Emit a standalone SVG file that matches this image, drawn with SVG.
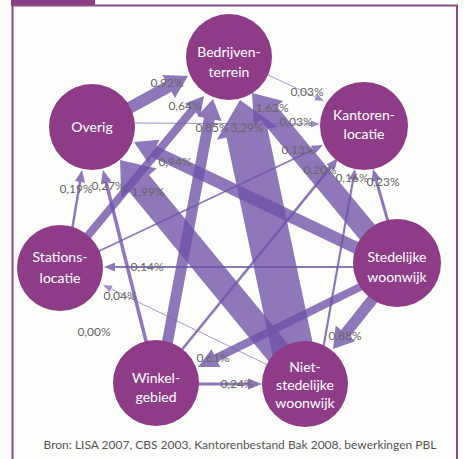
<svg xmlns="http://www.w3.org/2000/svg" width="464" height="459" viewBox="0 0 464 459">
<style>
.arr{fill:#6e52a8;fill-opacity:0.78}
.thin{fill:#7a62b2;fill-opacity:0.7}
.node{fill:#8e3c88}
.nt{font-family:Lato,"Liberation Sans",sans-serif;font-size:14px;fill:#ffffff;text-anchor:middle}
.lbl{font-family:Lato,"Liberation Sans",sans-serif;font-size:12px;fill:#666666;text-anchor:middle}
.src{font-family:Lato,"Liberation Sans",sans-serif;font-size:12px;fill:#555555;text-anchor:middle}
.frame{stroke:#8a4a85;stroke-width:2;fill:none}
</style>
<rect width="464" height="459" fill="#fdfdfb"/>
<rect x="11" y="0" width="84" height="6" fill="#8b3d83"/>
<path class="frame" d="M12.5 459 V5.5 H457 V459"/>

<g id="connectors">
  <!-- O -> B 0,92% -->
  <polygon class="arr" transform="translate(188,76) rotate(-28.55)" points="-77.4,-6 -22,-6 -22,-13 0,0 -22,13 -22,6 -77.4,6"/>
  <!-- S -> B 0,64% -->
  <polygon class="arr" transform="translate(204,96) rotate(-50.24)" points="-193.8,-4 -18,-4 -18,-10 0,0 -18,10 -18,4 -193.8,4"/>
  <!-- W -> B 0,85% -->
  <polygon class="arr" transform="translate(213,99) rotate(-79.39)" points="-255.4,-5.5 -20,-5.5 -20,-12.5 0,0 -20,12.5 -20,5.5 -255.4,5.5"/>
  <!-- N -> B 3,29% -->
  <polygon class="arr" transform="translate(240,100) rotate(-101.92)" points="-276,-21 -34,-21 -34,-31 0,0 -34,31 -34,21 -276,21"/>
  <!-- St -> B 1,62% -->
  <polygon class="arr" transform="translate(252,93) rotate(-129.66)" points="-197.4,-10.5 -26,-10.5 -26,-19 0,0 -26,19 -26,10.5 -197.4,10.5"/>
  <!-- B -> K 0,03% -->
  <polygon class="thin" transform="translate(324,101) rotate(25)" points="-66.2,-0.4 -9,-0.4 -9,-3.5 0,0 -9,3.5 -9,0.4 -66.2,0.4"/>
  <!-- O -> K 0,03% -->
  <polygon class="thin" transform="translate(320,124) rotate(0.3)" points="-190,-0.5 -9,-0.5 -9,-3.5 0,0 -9,3.5 -9,0.5 -190,0.5"/>
  <!-- S -> K 0,13% -->
  <polygon class="arr" transform="translate(323,145) rotate(-25.35)" points="-252.3,-0.9 -11,-0.9 -11,-4.5 0,0 -11,4.5 -11,0.9 -252.3,0.9"/>
  <!-- W -> K 0,20% -->
  <polygon class="arr" transform="translate(338,158) rotate(-50.84)" points="-250.2,-1.3 -12,-1.3 -12,-5 0,0 -12,5 -12,1.3 -250.2,1.3"/>
  <!-- N -> K 0,16% -->
  <polygon class="arr" transform="translate(355,169) rotate(-79.94)" points="-188.9,-1.1 -11,-1.1 -11,-4.5 0,0 -11,4.5 -11,1.1 -188.9,1.1"/>
  <!-- St -> K 0,23% -->
  <polygon class="arr" transform="translate(373,169) rotate(-105.95)" points="-58.2,-1.5 -12,-1.5 -12,-5 0,0 -12,5 -12,1.5 -58.2,1.5"/>
  <!-- S -> O 0,19% -->
  <polygon class="arr" transform="translate(82,170) rotate(-80.54)" points="-60.8,-1.25 -12,-1.25 -12,-5 0,0 -12,5 -12,1.25 -60.8,1.25"/>
  <!-- W -> O 0,27% -->
  <polygon class="arr" transform="translate(103,170) rotate(-104.11)" points="-180.4,-1.75 -13,-1.75 -13,-5.5 0,0 -13,5.5 -13,1.75 -180.4,1.75"/>
  <!-- N -> O 1,99% -->
  <polygon class="arr" transform="translate(120,160) rotate(-129.41)" points="-261.5,-13 -30,-13 -30,-23 0,0 -30,23 -30,13 -261.5,13"/>
  <!-- St -> O 0,94% -->
  <polygon class="arr" transform="translate(134,142) rotate(-154.54)" points="-255.9,-6 -22,-6 -22,-13 0,0 -22,13 -22,6 -255.9,6"/>
  <!-- St -> S 0,14% -->
  <polygon class="arr" transform="translate(104,267) rotate(180)" points="-256,-1 -11,-1 -11,-4.5 0,0 -11,4.5 -11,1 -256,1"/>
  <!-- N -> S 0,04% -->
  <polygon class="thin" transform="translate(103,285) rotate(-154.13)" points="-183.4,-0.4 -9,-0.4 -9,-3.5 0,0 -9,3.5 -9,0.4 -183.4,0.4"/>
  <!-- St -> W 0,61% -->
  <polygon class="arr" transform="translate(198,367) rotate(153.7)" points="-189.6,-4 -20,-4 -20,-10 0,0 -20,10 -20,4 -189.6,4"/>
  <!-- W -> N 0,24% -->
  <polygon class="arr" transform="translate(262,384) rotate(0)" points="-67,-1.5 -14,-1.5 -14,-5.5 0,0 -14,5.5 -14,1.5 -67,1.5"/>
  <!-- St -> N 0,88% -->
  <polygon class="arr" transform="translate(333,349) rotate(128.54)" points="-75.4,-5.5 -20,-5.5 -20,-12.5 0,0 -20,12.5 -20,5.5 -75.4,5.5"/>
</g>

<g id="labels">
  <text class="lbl" x="167" y="87">0,92%</text>
  <text class="lbl" x="185" y="110">0,64%</text>
  <text class="lbl" x="212" y="132">0,85%</text>
  <text class="lbl" x="247" y="132">3,29%</text>
  <text class="lbl" x="272" y="112">1,62%</text>
  <text class="lbl" x="307" y="96">0,03%</text>
  <text class="lbl" x="296" y="126">0,03%</text>
  <text class="lbl" x="298" y="154">0,13%</text>
  <text class="lbl" x="320" y="174">0,20%</text>
  <text class="lbl" x="352" y="182">0,16%</text>
  <text class="lbl" x="383" y="186">0,23%</text>
  <text class="lbl" x="76" y="193">0,19%</text>
  <text class="lbl" x="108" y="190">0,27%</text>
  <text class="lbl" x="148" y="196">1,99%</text>
  <text class="lbl" x="175" y="166">0,94%</text>
  <text class="lbl" x="147" y="271">0,14%</text>
  <text class="lbl" x="120" y="300">0,04%</text>
  <text class="lbl" x="94" y="336">0,00%</text>
  <text class="lbl" x="213" y="362">0,61%</text>
  <text class="lbl" x="237" y="388">0,24%</text>
  <text class="lbl" x="345" y="340">0,88%</text>
</g>

<g id="node-bedrijventerrein">
  <circle class="node" cx="229" cy="57" r="43"/>
  <text class="nt" x="229" y="57">Bedrijven-</text>
  <text class="nt" x="229" y="77">terrein</text>
</g>
<g id="node-overig">
  <circle class="node" cx="92" cy="127" r="43"/>
  <text class="nt" x="92" y="132">Overig</text>
</g>
<g id="node-kantorenlocatie">
  <circle class="node" cx="364" cy="126" r="44"/>
  <text class="nt" x="364" y="120">Kantoren-</text>
  <text class="nt" x="364" y="139">locatie</text>
</g>
<g id="node-stationslocatie">
  <circle class="node" cx="60" cy="268" r="43"/>
  <text class="nt" x="60" y="262">Stations-</text>
  <text class="nt" x="60" y="283">locatie</text>
</g>
<g id="node-stedelijke-woonwijk">
  <circle class="node" cx="397" cy="263" r="44"/>
  <text class="nt" x="397" y="262">Stedelijke</text>
  <text class="nt" x="397" y="282">woonwijk</text>
</g>
<g id="node-winkelgebied">
  <circle class="node" cx="156" cy="383" r="43"/>
  <text class="nt" x="156" y="383">Winkel-</text>
  <text class="nt" x="156" y="402">gebied</text>
</g>
<g id="node-niet-stedelijke-woonwijk">
  <circle class="node" cx="305" cy="384" r="43"/>
  <text class="nt" x="305" y="372">Niet-</text>
  <text class="nt" x="305" y="390">stedelijke</text>
  <text class="nt" x="305" y="408">woonwijk</text>
</g>

<text class="src" x="240" y="449">Bron: LISA 2007, CBS 2003, Kantorenbestand Bak 2008, bewerkingen PBL</text>
</svg>
